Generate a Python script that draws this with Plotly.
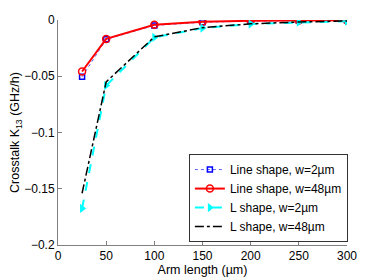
import plotly.graph_objects as go

arm_length = [25, 50, 100, 150, 200, 250, 300]
line_w2 = [-0.0505, -0.0172, -0.0048, -0.0020, -0.0010, -0.0005, -0.0002]
line_w48 = [-0.0458, -0.0168, -0.0042, -0.0015, -0.0007, -0.0004, -0.0002]
l_w2 = [-0.1675, -0.0583, -0.0155, -0.0072, -0.0036, -0.0020, -0.0010]
l_w48 = [-0.1540, -0.0550, -0.0150, -0.0068, -0.0034, -0.0018, -0.0009]
names = ["Line shape, w=2µm", "Line shape, w=48µm", "L shape, w=2µm", "L shape, w=48µm"]

font = "Liberation Sans, Arial, sans-serif"
fig = go.Figure()
fig.add_trace(go.Scatter(x=arm_length, y=line_w2, name=names[0], mode="lines+markers",
                         line=dict(color="#6060ff", dash="dot", width=1),
                         marker=dict(symbol="square-open", size=5, color="blue", line=dict(width=1.5))))
fig.add_trace(go.Scatter(x=arm_length, y=line_w48, name=names[1], mode="lines+markers",
                         line=dict(color="red", width=2),
                         marker=dict(symbol="circle-open", size=7, color="red", line=dict(width=1.5))))
fig.add_trace(go.Scatter(x=arm_length, y=l_w2, name=names[2], mode="lines+markers",
                         line=dict(color="cyan", dash="dash", width=2),
                         marker=dict(symbol="triangle-right", size=8, color="cyan")))
fig.add_trace(go.Scatter(x=arm_length, y=l_w48, name=names[3], mode="lines",
                         line=dict(color="black", dash="dashdot", width=1.5)))

axis_common = dict(showgrid=False, zeroline=False, showline=True, linecolor="#808080",
                   linewidth=1, ticks="inside", ticklen=4, tickcolor="#808080",
                   tickfont=dict(family=font, size=12, color="black"), automargin=False)
fig.update_layout(
    width=374, height=269,
    margin=dict(l=50, r=35, t=12, b=32),
    paper_bgcolor="white", plot_bgcolor="white",
    font=dict(family=font, size=12, color="black"),
    showlegend=True,
    legend=dict(x=0.728, y=0.013, xanchor="center", yanchor="bottom",
                bgcolor="white", bordercolor="#333333", borderwidth=1,
                font=dict(family=font, size=12), tracegroupgap=0, itemwidth=30),
)
fig.update_xaxes(range=[0, 300], dtick=50, title=dict(text="Arm length (µm)",
                 font=dict(family=font, size=12.5)), **axis_common)
fig.update_yaxes(range=[-0.2, 0], dtick=0.05, title=dict(text="Crosstalk K<sub>13</sub> (GHz/h)",
                 font=dict(family=font, size=12.5)), **axis_common)
fig.write_html("out.html")
